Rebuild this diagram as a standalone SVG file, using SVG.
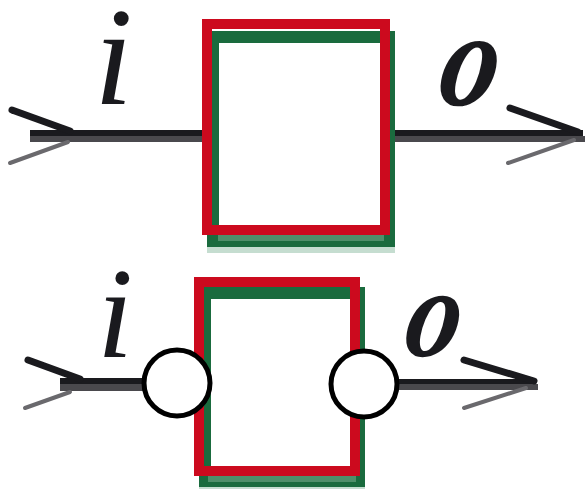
<svg xmlns="http://www.w3.org/2000/svg" width="588" height="489" viewBox="0 0 588 489">
<style>
.lbl{font-family:"Liberation Serif",serif;font-style:italic;fill:#1a1a1e}
.bo{font-weight:bold}
.red{fill:none;stroke:#cc0a1e;stroke-width:10}
.grn{fill:none;stroke:#1a6b3e;stroke-width:12}
.ltg{fill:#4f8f6a}
.pale{fill:#c5ddd0}
.ln1{fill:#1a1a1e}
.ln2{fill:#4a494d}
.ah1{stroke:#1a1a1e;stroke-width:7;fill:none;stroke-linecap:round}
.ah2{stroke:#6a696d;stroke-width:4;fill:none;stroke-linecap:round}
.port{fill:#fff;stroke:#000;stroke-width:5}
</style>
<rect width="588" height="489" fill="#fff"/>
<g id="connectors">
<rect class="ln1" x="30" y="130" width="175" height="6"/>
<rect class="ln2" x="30" y="136" width="175" height="6"/>
<path class="ah1" d="M12 110 L70 131"/>
<path class="ah2" d="M10 163 L68 142"/>
<rect class="ln1" x="388" y="130" width="195" height="6"/>
<rect class="ln2" x="388" y="136" width="197" height="6"/>
<path class="ah1" d="M510 108 L578 132"/>
<path class="ah2" d="M508 163 L574 140"/>
<rect class="ln1" x="60" y="378" width="90" height="6"/>
<rect class="ln2" x="60" y="384" width="90" height="7"/>
<path class="ah1" d="M28 360 L80 379"/>
<path class="ah2" d="M25 408 L70 392"/>
<rect class="ln1" x="396" y="379" width="140" height="5"/>
<rect class="ln2" x="396" y="384" width="142" height="6"/>
<path class="ah1" d="M464 360 L534 381"/>
<path class="ah2" d="M464 408 L526 388"/>
</g>
<g id="box1">
<rect class="pale" x="207" y="247" width="188" height="6"/>
<rect class="grn" x="213" y="37" width="176" height="204"/>
<rect class="ltg" x="218" y="235" width="166" height="6"/>
<rect class="red" x="207" y="24" width="178" height="206" fill="#fff"/>
</g>
<g id="box2">
<rect class="pale" x="199" y="487" width="166" height="3"/>
<rect class="grn" x="205" y="293" width="154" height="188"/>
<rect class="ltg" x="208" y="476" width="148" height="6"/>
<rect class="red" x="199" y="282" width="156" height="189"/>
</g>
<g id="port-in"><circle class="port" cx="177" cy="383" r="33"/></g>
<g id="port-out"><circle class="port" cx="364" cy="384" r="33"/></g>
<g id="labels">
<text class="lbl" x="94" y="104" font-size="140">i</text>
<text class="lbl bo" transform="translate(435 105) skewX(-10) scale(0.86 1)" font-size="136">o</text>
<text class="lbl" x="97" y="357" font-size="130">i</text>
<text class="lbl bo" transform="translate(401 356) skewX(-10) scale(0.86 1)" font-size="128">o</text>
</g>
</svg>
